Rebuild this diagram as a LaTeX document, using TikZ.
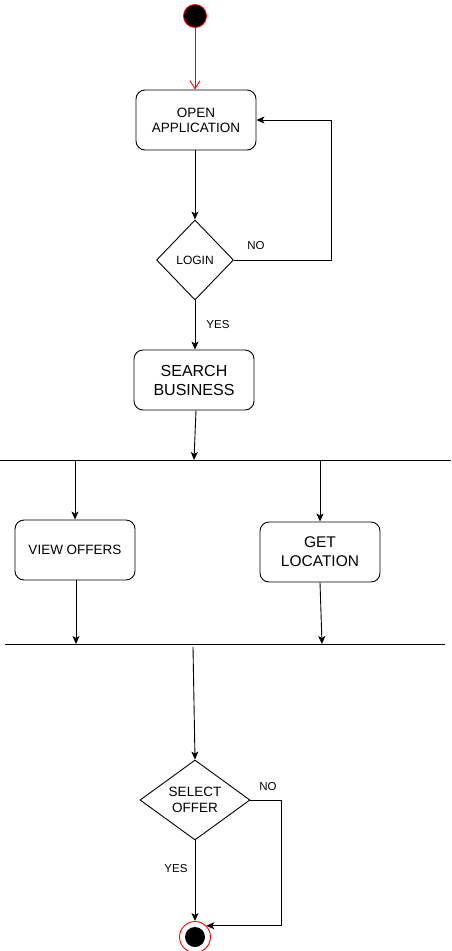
\documentclass[tikz,border=0pt]{standalone}
\usepackage{fontspec}
\setmainfont{Liberation Sans}
\usetikzlibrary{shapes.geometric,arrows.meta}
\begin{document}
\begin{tikzpicture}[x=1pt,y=-1pt,
  box/.style={draw,rounded corners=9pt,minimum width=120pt,minimum height=60pt,inner sep=0pt,align=center,line width=0.9pt},
  dec/.style={draw,diamond,inner sep=0pt,align=center,line width=0.9pt},
  arr/.style={-{Stealth[length=8pt,width=7pt,inset=2pt]},line width=0.9pt},
  bar/.style={line width=0.9pt},
  lbl/.style={font=\fontsize{11.5}{13}\selectfont}]
\useasboundingbox (0,0) rectangle (451,951);
% start
\node[circle,fill=black,draw=red,minimum size=23pt,inner sep=0pt,line width=0.9pt] (start) at (195,16) {};
\node[box,font=\fontsize{13.5}{15}\selectfont] (open) at (196,120) {OPEN\\APPLICATION};
\node[dec,minimum width=77pt,minimum height=80pt,font=\fontsize{12}{14}\selectfont] (login) at (195,260) {LOGIN};
\node[box,font=\fontsize{16}{19}\selectfont] (search) at (194,380) {SEARCH\\BUSINESS};
% fork
\draw[bar] (0,460) -- (451,460);
\coordinate (f1) at (194,460);
\coordinate (f2) at (75,460);
\coordinate (f3) at (320,460);
\node[box,font=\fontsize{13.5}{15}\selectfont] (view) at (75,550) {VIEW OFFERS};
\node[box,font=\fontsize{15.5}{19}\selectfont] (get) at (320,552) {GET\\LOCATION};
% join
\draw[bar] (5,644) -- (445,644);
\coordinate (j1) at (76,644);
\coordinate (j2) at (322,644);
\coordinate (j3) at (193,647);
\node[dec,minimum width=110pt,minimum height=80pt,font=\fontsize{13.5}{15.5}\selectfont] (select) at (195,800) {SELECT\\OFFER};
% end
\node[circle,draw=red,minimum size=31pt,inner sep=0pt,line width=0.9pt] (end) at (195,937) {};
\fill (end.center) circle (10pt);

% connectors
\draw[red,line width=0.9pt,-{Straight Barb[length=8pt,width=10pt]}] (start) -- (start |- open.north);
\draw[arr] (open.south -| login.north) -- (login.north);
\draw[arr] (login.east) -- ++(97,0) |- (open.east);
\node[lbl] at (256,246) {NO};
\draw[arr] (login.south) -- (login.south |- search.north);
\node[lbl] at (218,325) {YES};
\draw[arr] ([xshift=2pt]search.south) -- (f1);
\draw[arr] (f2) -- (view.north);
\draw[arr] (f3) -- (get.north);
\draw[arr] ([xshift=1pt]view.south) -- (j1);
\draw[arr] (get.south) -- (j2);
\draw[arr] (j3) -- (select.north);
\draw[arr] (select.south) -- (end.north);
\node[lbl] at (176,869) {YES};
\draw[arr] (select.east) -- ++(31,0) |- (end.45);
\node[lbl] at (268,787) {NO};
\end{tikzpicture}
\end{document}
